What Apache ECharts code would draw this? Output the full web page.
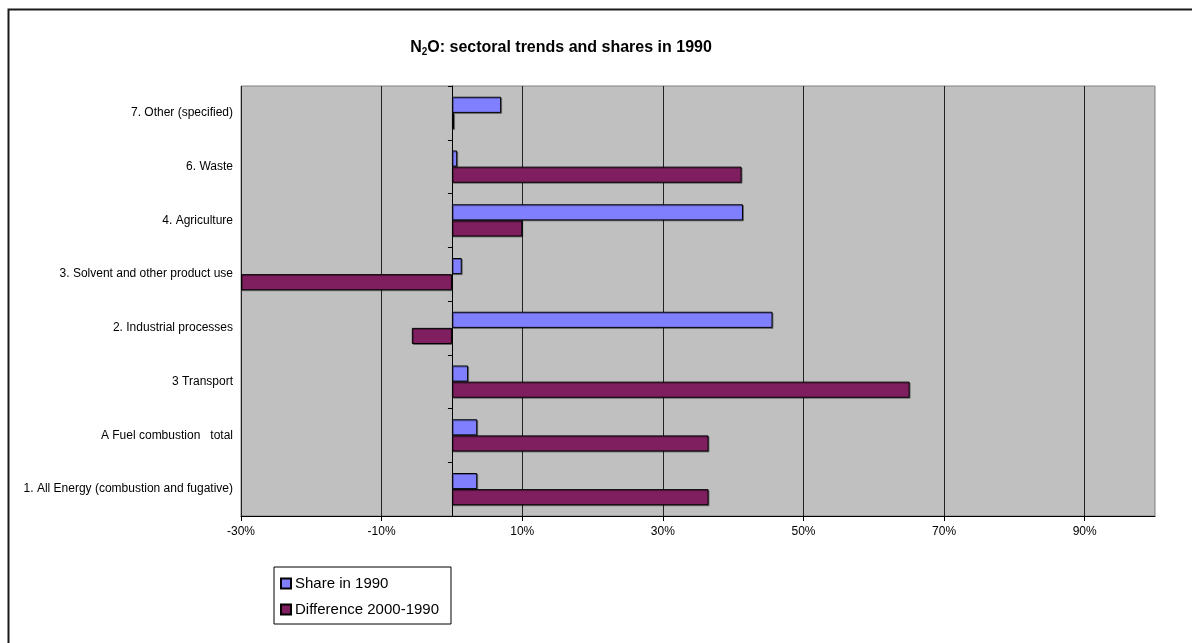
<!DOCTYPE html>
<html>
<head>
<meta charset="utf-8">
<script src="https://cdn.jsdelivr.net/npm/echarts@6/dist/echarts.min.js"></script>
<style>
  html, body { margin: 0; padding: 0; background: #fff; }
  #chart { width: 1192px; height: 643px; }
</style>
</head>
<body>
<div id="chart"></div>
<script>
// categories, bottom to top
var sectors = [
    '1. All Energy (combustion and fugative)',
    'A Fuel combustion   total',
    '3 Transport',
    '2. Industrial processes',
    '3. Solvent and other product use',
    '4. Agriculture',
    '6. Waste',
    '7. Other (specified)'
];
var share1990 = [0.036, 0.036, 0.023, 0.456, 0.014, 0.414, 0.0075, 0.070];
var diff2000 = [0.365, 0.365, 0.651, -0.057, -0.30, 0.100, 0.412, 0.003];
var tickValues = [-0.3, -0.1, 0.1, 0.3, 0.5, 0.7, 0.9];

var font = 'Liberation Sans, Arial, sans-serif';
var myChart = echarts.init(document.getElementById('chart'));

function pct(v) {
    // only label the real ticks, not the axis end
    for (var i = 0; i < tickValues.length; i++) {
        if (Math.abs(v - tickValues[i]) < 1e-6) return Math.round(v * 100) + '%';
    }
    return '';
}

var option = {
    backgroundColor: '#fff',
    animation: false,
    title: {
        text: '{n|N}{s|2}{n|O: sectoral trends and shares in 1990}',
        left: 556,
        textAlign: 'center',
        top: 34,
        textStyle: {
            rich: {
                n: { fontFamily: font, fontSize: 16, fontWeight: 'bold', color: '#000' },
                s: { fontFamily: font, fontSize: 10, fontWeight: 'bold', color: '#000', verticalAlign: 'bottom', padding: [8, 0, 0, 0] }
            }
        }
    },
    legend: {
        orient: 'vertical',
        left: 274,
        top: 567,
        width: 170,
        padding: [9, 12, 7, 6],
        itemGap: 11,
        itemWidth: 10,
        itemHeight: 10,
        icon: 'rect',
        borderColor: '#000',
        borderWidth: 1,
        borderRadius: 0,
        data: ['Share in 1990', 'Difference 2000-1990'],
        textStyle: { fontFamily: font, fontSize: 15, color: '#000', padding: [0, 0, 0, -1] }
    },
    grid: {
        left: 241,
        top: 86,
        right: 37,
        bottom: 127,
        show: true,
        backgroundColor: '#c0c0c0',
        borderColor: '#808080',
        borderWidth: 1
    },
    xAxis: {
        type: 'value',
        min: -0.3,
        max: 1.0,
        interval: 0.2,
        axisLine: { show: true, onZero: false, lineStyle: { color: '#000' } },
        axisTick: { show: true, length: 5, customValues: tickValues, lineStyle: { color: '#000' } },
        axisLabel: { formatter: pct, fontFamily: font, fontSize: 12, color: '#000', margin: 10 },
        splitLine: { show: true, lineStyle: { color: '#222', width: 1 } }
    },
    yAxis: [{
        type: 'category',
        data: sectors,
        axisLine: { show: false, onZero: false },
        axisTick: { show: false },
        axisLabel: { fontFamily: font, fontSize: 12, color: '#000', margin: 8 }
    }, {
        type: 'category',
        data: sectors,
        position: 'left',
        axisLine: { show: true, onZero: true, lineStyle: { color: '#000' } },
        axisTick: { show: true, length: 4, lineStyle: { color: '#000' } },
        axisLabel: { show: false }
    }],
    series: [{
        name: 'Share in 1990',
        type: 'bar',
        yAxisIndex: 0,
        data: share1990,
        barGap: '0%',
        barCategoryGap: '40%',
        itemStyle: { color: '#8080ff', borderColor: '#000', borderWidth: 1,
            shadowColor: 'rgba(0,0,0,0.35)', shadowOffsetX: 1, shadowOffsetY: 1 }
    }, {
        name: 'Difference 2000-1990',
        type: 'bar',
        yAxisIndex: 0,
        data: diff2000,
        barGap: '0%',
        barCategoryGap: '40%',
        itemStyle: { color: '#7f1f5f', borderColor: '#000', borderWidth: 1,
            shadowColor: 'rgba(0,0,0,0.35)', shadowOffsetX: 1, shadowOffsetY: 1 }
    }],
    graphic: [{
        type: 'polyline',
        shape: { points: [[8.5, 643], [8.5, 9.5], [1192, 9.5]] },
        style: { stroke: '#1a1a1a', lineWidth: 2, fill: null },
        silent: true
    }]
};

myChart.setOption(option);
</script>
</body>
</html>
